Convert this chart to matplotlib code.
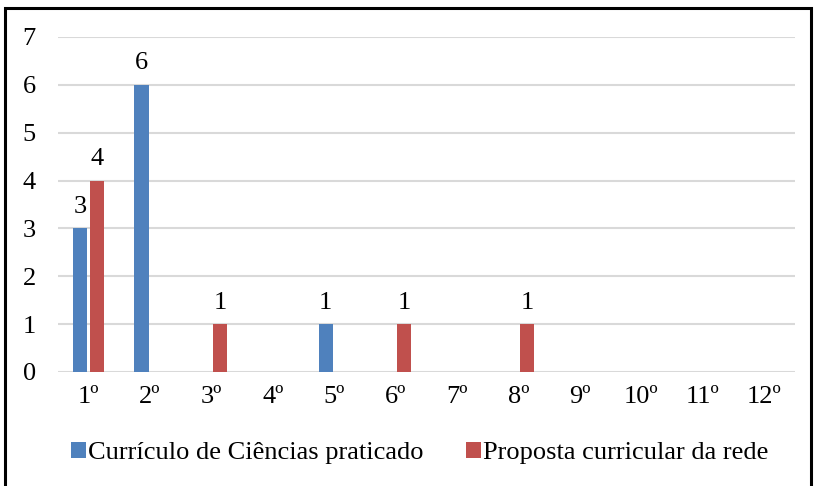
import matplotlib.pyplot as plt
import numpy as np
from matplotlib.patches import Rectangle

# séries anuais
anos = ['1º', '2º', '3º', '4º', '5º', '6º', '7º', '8º', '9º', '10º', '11º', '12º']
praticado = [3, 6, 0, 0, 1, 0, 0, 0, 0, 0, 0, 0]
proposta = [4, 0, 1, 0, 0, 1, 0, 1, 0, 0, 0, 0]

plt.rcParams['font.family'] = ['Liberation Serif', 'DejaVu Serif']
FS = 19

fig = plt.figure(figsize=(8.15, 4.86), dpi=100)
ax = fig.add_axes([58 / 815, 1 - 372 / 486, 737 / 815, 335 / 486])

x = np.arange(len(anos))
w = 0.23
b1 = ax.bar(x - 0.14, praticado, w, color='#4f81bd', label='Currículo de Ciências praticado', zorder=3)
b2 = ax.bar(x + 0.14, proposta, w, color='#c0504d', label='Proposta curricular da rede', zorder=3)

for bars, vals in ((b1, praticado), (b2, proposta)):
    for r, v in zip(bars, vals):
        if v:
            ax.text(r.get_x() + r.get_width() / 2, v + 0.22, str(v),
                    ha='center', va='bottom', fontsize=FS)

ax.set_xlim(-0.5, len(anos) - 0.5)
ax.set_ylim(0, 7)
ax.set_yticks(range(8))
ax.set_xticks(x)
ax.set_xticklabels(anos)
ax.yaxis.grid(True, color='#d9d9d9', linewidth=1.5, zorder=0)
ax.set_axisbelow(True)
for s in ax.spines.values():
    s.set_visible(False)
ax.tick_params(length=0, labelsize=FS)
ax.tick_params(axis='x', pad=10)
ax.tick_params(axis='y', pad=16)

fig.legend(loc='center', bbox_to_anchor=(420 / 815, 1 - 453 / 486), ncol=2,
           frameon=False, fontsize=FS, handlelength=0.55, handleheight=0.55,
           handletextpad=0.1, columnspacing=1.6)

# moldura da figura
fig.patches.append(Rectangle((5 / 815, -0.1), 806 / 815, 1.1 - 8 / 486,
                             transform=fig.transFigure, fill=False,
                             edgecolor='black', linewidth=2.2))

fig.savefig('out.png', dpi=100)
